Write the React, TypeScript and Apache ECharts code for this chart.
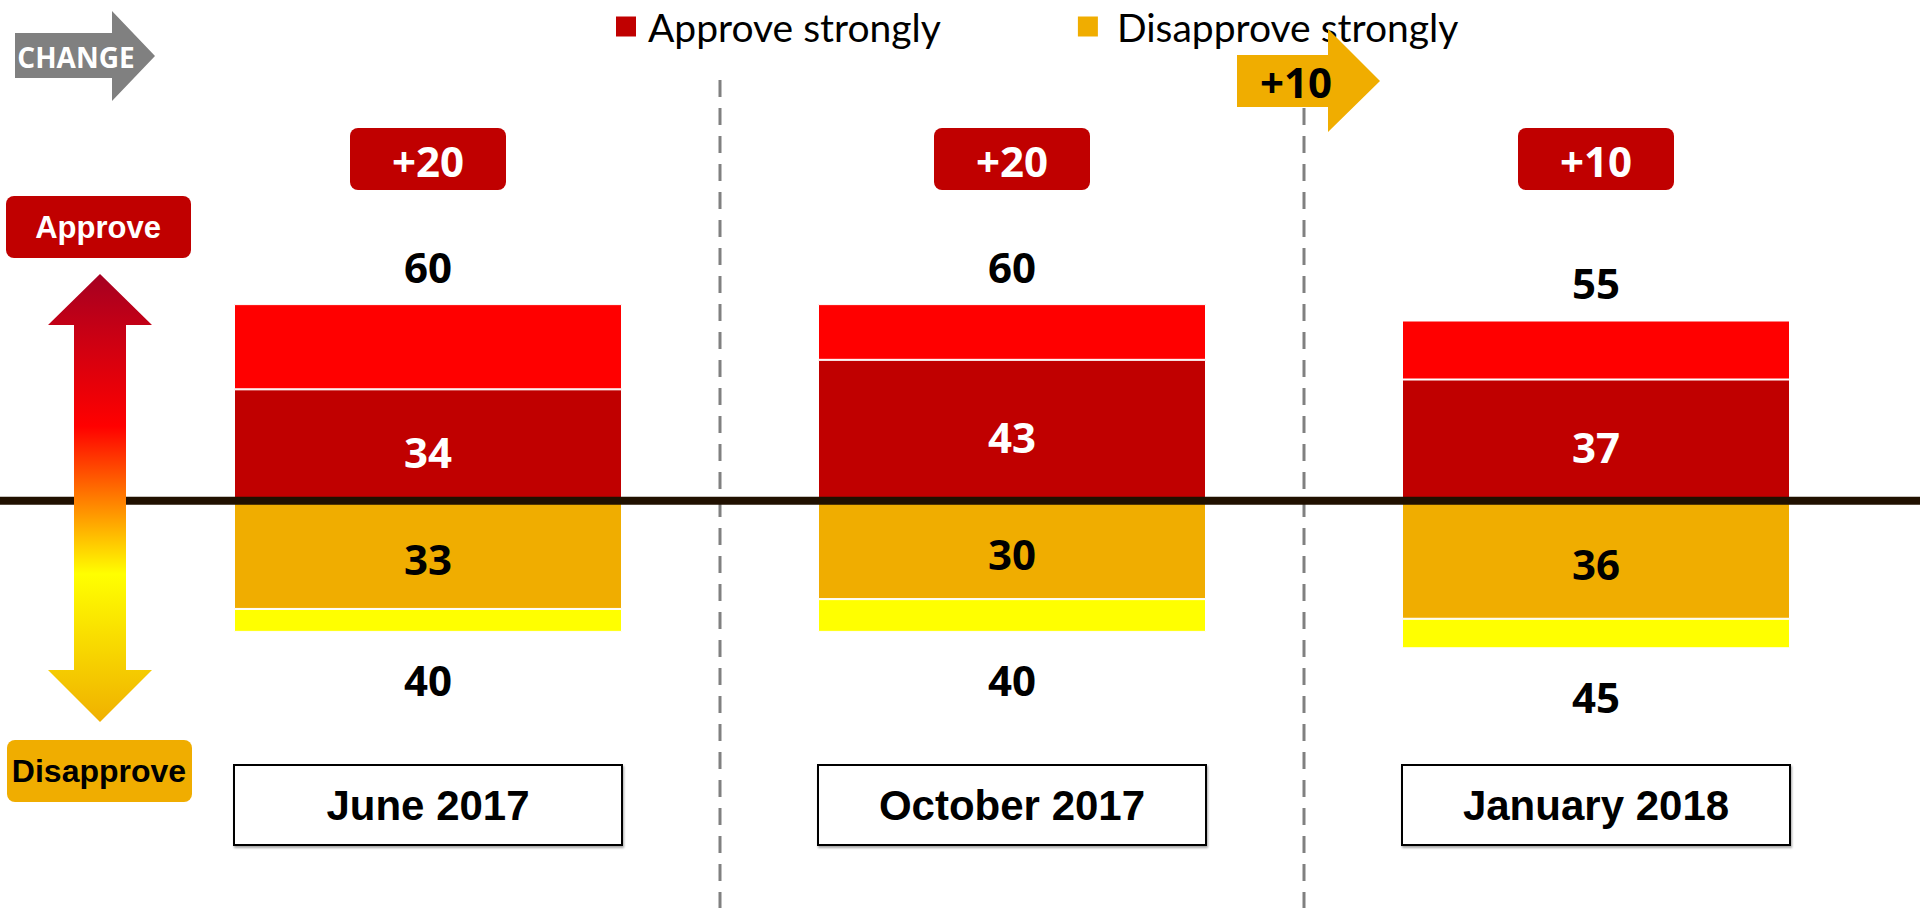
import React, { useEffect, useRef } from "react";
import * as echarts from "echarts";

const categories = ["June 2017", "October 2017", "January 2018"];
const approveStrongly = [34, 43, 37];
const approveTotal = [60, 60, 55];
const disapproveStrongly = [33, 30, 36];
const disapproveTotal = [40, 40, 45];
const disapproveShiftLabel = "+10";

const approveSomewhat = approveTotal.map((t, i) => t - approveStrongly[i]);
const disapproveSomewhat = disapproveTotal.map((t, i) => t - disapproveStrongly[i]);
const netChange = approveTotal.map((t, i) => t - disapproveTotal[i]);

const CAL = '"Open Sans", "Noto Sans", sans-serif';
const LEG = 'Lato, "Open Sans", sans-serif';
const ARIAL = '"Liberation Sans", Arial, sans-serif';

export default function App() {
  const ref = useRef<HTMLDivElement>(null);
  useEffect(() => {
    document.body.style.margin = "0";
    const chart = echarts.init(ref.current!, null, { renderer: "svg" });
    const digitLabel = (color: string, offsetY: number) => ({
      show: true,
      position: "inside" as const,
      color,
      fontFamily: CAL,
      fontWeight: "bold" as const,
      fontSize: 42,
      offset: [0, offsetY],
    });
    chart.setOption({
      animation: false,
      grid: { left: 136, right: 32, top: 173, bottom: 145 },
      legend: {
        data: [
          { name: "Approve strongly", textStyle: { padding: [0, 0, 0, 6] } },
          { name: "Disapprove strongly", textStyle: { padding: [0, 0, 0, 13] } },
        ],
        left: 609,
        top: 2,
        icon: "rect",
        itemWidth: 22,
        itemHeight: 22,
        itemGap: 135,
        selectedMode: false,
        textStyle: { fontFamily: LEG, fontSize: 39, color: "#000" },
      },
      xAxis: {
        type: "category",
        data: categories,
        axisLine: { show: false },
        axisTick: { show: false },
        splitLine: { show: false },
        axisLabel: {
          interval: 0,
          margin: 3,
          width: 386,
          height: 78,
          lineHeight: 78,
          align: "center",
          verticalAlign: "top",
          borderColor: "#000",
          borderWidth: 2,
          backgroundColor: "#fff",
          shadowColor: "rgba(0,0,0,0.35)",
          shadowOffsetY: 2,
          shadowOffsetX: 1,
          shadowBlur: 2,
          color: "#000",
          fontFamily: ARIAL,
          fontWeight: "bold",
          fontSize: 42,
        },
      },
      yAxis: { type: "value", min: -80, max: 100, show: false },
      series: [
        {
          name: "Approve strongly",
          type: "bar",
          stack: "all",
          barWidth: 388,
          data: approveStrongly,
          itemStyle: { color: "#C00000", borderColor: "#fff", borderWidth: 1 },
          label: digitLabel("#fff", 6),
        },
        {
          name: "Approve somewhat",
          type: "bar",
          stack: "all",
          barWidth: 388,
          data: approveSomewhat,
          itemStyle: { color: "#FF0000", borderColor: "#fff", borderWidth: 1 },
          label: {
            show: true,
            position: "top",
            distance: 17,
            color: "#000",
            fontFamily: CAL,
            fontWeight: "bold",
            fontSize: 42,
            formatter: (p: any) => String(approveTotal[p.dataIndex]),
          },
        },
        {
          name: "Disapprove strongly",
          type: "bar",
          stack: "all",
          barWidth: 388,
          data: disapproveStrongly.map((v) => -v),
          itemStyle: { color: "#F0AD00", borderColor: "#fff", borderWidth: 1 },
          label: { ...digitLabel("#000", 4), formatter: (p: any) => String(disapproveStrongly[p.dataIndex]) },
        },
        {
          name: "Disapprove somewhat",
          type: "bar",
          stack: "all",
          barWidth: 388,
          data: disapproveSomewhat.map((v) => -v),
          itemStyle: { color: "#FFFF00", borderColor: "#fff", borderWidth: 1 },
          label: {
            show: true,
            position: "bottom",
            distance: 27,
            color: "#000",
            fontFamily: CAL,
            fontWeight: "bold",
            fontSize: 42,
            formatter: (p: any) => String(disapproveTotal[p.dataIndex]),
          },
        },
      ],
    });

    const zeroY = chart.convertToPixel({ yAxisIndex: 0 }, 0) as number;
    const xs = categories.map((c) => chart.convertToPixel({ xAxisIndex: 0 }, c) as number);
    const dividers = [0, 1].map((i) => (xs[i] + xs[i + 1]) / 2);

    const txt = (text: string, x: number, y: number, font: string, fill: string, z: number) => ({
      type: "text",
      x,
      y,
      z,
      style: {
        text,
        font,
        fill,
        align: "center",
        verticalAlign: "middle",
        textAlign: "center",
        textVerticalAlign: "middle",
      },
    });

    const graphics: any[] = [];
    graphics.push({
      type: "line",
      z: 50,
      shape: { x1: 0, y1: zeroY, x2: 1920, y2: zeroY },
      style: { stroke: "#201000", lineWidth: 8 },
    });
    dividers.forEach((x) =>
      graphics.push({
        type: "line",
        z: 40,
        shape: { x1: x, y1: 80, x2: x, y2: 908 },
        style: { stroke: "#808080", lineWidth: 3, lineDash: [17, 11] },
      })
    );
    xs.forEach((x, i) => {
      graphics.push({
        type: "rect",
        z: 60,
        shape: { x: x - 78, y: 128, width: 156, height: 62, r: 8 },
        style: { fill: "#C00000" },
      });
      graphics.push(txt("+" + netChange[i], x, 160, `bold 42px ${CAL}`, "#fff", 61));
    });
    // CHANGE arrow
    graphics.push({
      type: "polygon",
      z: 60,
      shape: {
        points: [
          [15, 33], [112, 33], [112, 11], [155, 56], [112, 101], [112, 78], [15, 78],
        ],
      },
      style: { fill: "#808080" },
    });
    graphics.push(txt("CHANGE", 76, 57, `bold 28px ${CAL}`, "#fff", 61));
    // orange shift arrow
    const d2 = dividers[1];
    graphics.push({
      type: "polygon",
      z: 60,
      shape: {
        points: [
          [d2 - 67, 55], [d2 + 24, 55], [d2 + 24, 29], [d2 + 76, 81], [d2 + 24, 132], [d2 + 24, 107], [d2 - 67, 107],
        ],
      },
      style: { fill: "#F0AD00" },
    });
    graphics.push(txt(disapproveShiftLabel, d2 - 8, 81, `bold 42px ${CAL}`, "#000", 61));
    // gradient double arrow
    graphics.push({
      type: "polygon",
      z: 60,
      shape: {
        points: [
          [100, 274], [152, 325], [126, 325], [126, 670], [152, 670], [100, 722], [48, 670], [74, 670], [74, 325], [48, 325],
        ],
      },
      style: {
        fill: new echarts.graphic.LinearGradient(0, 0, 0, 1, [
          { offset: 0, color: "#A50021" },
          { offset: 0.34, color: "#FF0000" },
          { offset: 0.67, color: "#FFFF00" },
          { offset: 1, color: "#F0B000" },
        ]),
      },
    });
    graphics.push({
      type: "rect",
      z: 60,
      shape: { x: 6, y: 196, width: 185, height: 62, r: 8 },
      style: { fill: "#C00000" },
    });
    graphics.push(txt("Approve", 98, 227, `bold 31px ${ARIAL}`, "#fff", 61));
    graphics.push({
      type: "rect",
      z: 60,
      shape: { x: 7, y: 740, width: 185, height: 62, r: 8 },
      style: { fill: "#F0AD00" },
    });
    graphics.push(txt("Disapprove", 99, 771, `bold 32px ${ARIAL}`, "#000", 61));

    chart.setOption({ graphic: graphics });
    return () => chart.dispose();
  }, []);
  return (
    <div
      ref={ref}
      style={{ position: "fixed", left: 0, top: 0, width: 1920, height: 908, background: "#fff" }}
    />
  );
}
